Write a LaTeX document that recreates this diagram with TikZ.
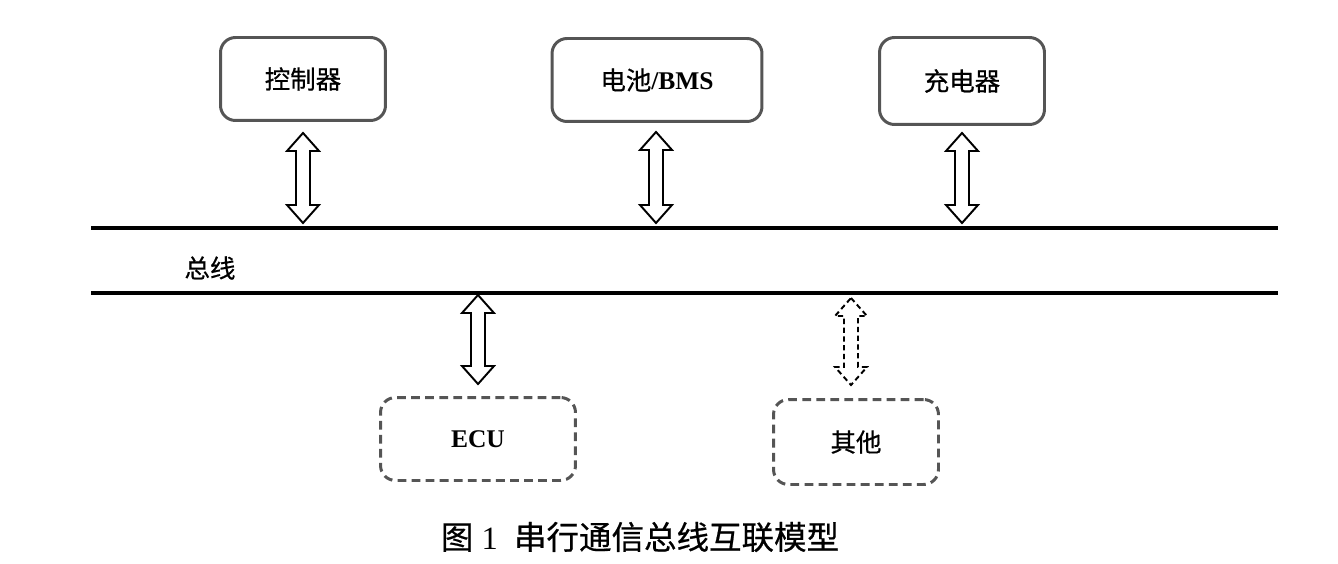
\documentclass[tikz,border=0pt]{standalone}
\usepackage{fontspec}
\setmainfont{Liberation Serif}
\newfontfamily\cjk[FakeBold=0.6]{Noto Sans CJK SC}
\usetikzlibrary{positioning,calc}
\definecolor{BoxGray}{RGB}{85,85,85}
\tikzset{
  box/.style={draw=BoxGray,line width=1.7pt,rounded corners=0.3cm,inner sep=0pt,
    minimum width=3.3cm,minimum height=1.66cm,font=\fontsize{14.5}{16}\selectfont},
  optbox/.style={box,dash pattern=on 5pt off 3pt},
  bus/.style={draw=black,line width=2pt},
  link/.style={draw=black,line width=1.1pt,fill=white,line join=miter},
  optlink/.style={link,dash pattern=on 3pt off 2pt},
  label/.style={font=\fontsize{14.5}{16}\selectfont},
}
% hollow two-headed arrow between a top tip and a bottom tip
\newcommand{\buslink}[3][link]{%
  \draw[#1] (#2) -- ($(#2)+(16,18)$) -- ($(#2)+(7,18)$) -- ($(#3)+(7,-18)$)
    -- ($(#3)+(16,-18)$) -- (#3) -- ($(#3)+(-16,-18)$) -- ($(#3)+(-7,-18)$)
    -- ($(#2)+(-7,18)$) -- ($(#2)+(-16,18)$) -- cycle;}

\begin{document}
\begin{tikzpicture}[x=0.02cm,y=-0.02cm]
\useasboundingbox (0,0) rectangle (1338,564);
% bus
\draw[bus] (91,228) coordinate (busA-w) -- (1278,228) coordinate (busA-e);
\draw[bus] (91,293) coordinate (busB-w) -- (1278,293) coordinate (busB-e);
\node[label] (busname) at (210,268) {\cjk 总线};
% units on top
\node[box] (ctl) at (303,79) {\cjk 控制器};
\node[box,minimum width=4.2cm] (bms) at (657,80) {{\cjk 电池}\textbf{/BMS}};
\node[box,minimum height=1.74cm] (chg) at (962,81) {\cjk 充电器};
% units below
\node[optbox,minimum width=3.9cm] (ecu) at (478,439) {\textbf{ECU}};
\node[optbox,minimum height=1.7cm] (misc) at (856,442) {\cjk 其他};
% links
\coordinate (ctl-t) at ($(ctl.south)+(0,11)$);
\coordinate (ctl-b) at ($(ctl.south |- busA-w)+(0,-5)$);
\coordinate (bms-t) at ($(bms.south)+(-1,9)$);
\coordinate (bms-b) at ($(bms-t |- busA-w)+(0,-5)$);
\coordinate (chg-t) at ($(chg.south)+(0,7)$);
\coordinate (chg-b) at ($(chg.south |- busA-w)+(0,-5)$);
\coordinate (ecu-t) at ($(ecu.north |- busB-w)+(0,2)$);
\coordinate (ecu-b) at ($(ecu.north)+(0,-12)$);
\coordinate (misc-t) at ($(misc.north |- busB-w)+(-5,5)$);
\coordinate (misc-b) at ($(misc.north)+(-5,-13)$);
\buslink{ctl-t}{ctl-b}
\buslink{bms-t}{bms-b}
\buslink{chg-t}{chg-b}
\buslink{ecu-t}{ecu-b}
\buslink[optlink]{misc-t}{misc-b}
% caption
\node[font=\fontsize{18.5}{20}\selectfont] (caption) at (640,537)
  {{\cjk 图}\hspace{0.25em}1\hspace{0.5em}{\cjk 串行通信总线互联模型}};
\end{tikzpicture}
\end{document}
